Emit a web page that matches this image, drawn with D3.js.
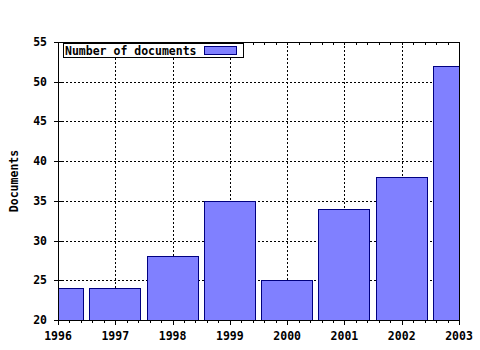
<!DOCTYPE html>
<html>
<head>
<meta charset="utf-8">
<script src="https://cdn.jsdelivr.net/npm/d3@7"></script>
<style>
  body { margin: 0; background: #fff; }
  text { font-family: "DejaVu Sans Mono", monospace; font-weight: bold; font-size: 11.5px; fill: #000; }
</style>
</head>
<body>
<div id="chart"></div>
<script>
const years = [1996, 1997, 1998, 1999, 2000, 2001, 2002, 2003];
const docs = [24, 24, 28, 35, 25, 34, 38, 52];
const yTicks = [20, 25, 30, 35, 40, 45, 50, 55];
const seriesName = "Number of documents";

const margin = { top: 42, right: 21, bottom: 30, left: 58 };
const width = 480 - margin.left - margin.right;
const height = 350 - margin.top - margin.bottom;

const svg = d3.select("#chart")
  .append("svg")
  .attr("width", 480)
  .attr("height", 350);

const g = svg.append("g")
  .attr("transform", `translate(${margin.left},${margin.top})`);

const x = d3.scaleLinear().domain([1996, 2003]).range([0, width]);
const y = d3.scaleLinear().domain([20, 55]).range([height, 0]);
const barW = 51;

g.append("clipPath").attr("id", "clip")
  .append("rect").attr("width", width).attr("height", height);

// grid
g.selectAll(".hgrid")
  .data(yTicks.slice(1, -1))
  .join("line")
  .attr("x1", 0).attr("x2", width)
  .attr("y1", d => Math.round(y(d)) + 0.5).attr("y2", d => Math.round(y(d)) + 0.5)
  .attr("stroke", "#000").attr("stroke-dasharray", "2,2");

g.selectAll(".vgrid")
  .data(years.slice(1, -1))
  .join("line")
  .attr("y1", 0).attr("y2", height)
  .attr("x1", d => Math.round(x(d)) + 0.5).attr("x2", d => Math.round(x(d)) + 0.5)
  .attr("stroke", "#000").attr("stroke-dasharray", "2,2");

// bars
g.append("g").attr("clip-path", "url(#clip)")
  .selectAll("rect")
  .data(years.map((yr, i) => ({ yr, v: docs[i] })))
  .join("rect")
  .attr("x", d => Math.floor(x(d.yr) - barW / 2) + 0.5)
  .attr("y", d => Math.round(y(d.v)) + 0.5)
  .attr("width", barW)
  .attr("height", d => height - Math.round(y(d.v)))
  .attr("fill", "#8080ff")
  .attr("stroke", "#000080");

// frame
g.append("rect")
  .attr("x", 0.5).attr("y", 0.5)
  .attr("width", width).attr("height", height)
  .attr("fill", "none").attr("stroke", "#000");

// minor x ticks
const minor = [];
for (let i = 0; i < years.length - 1; i++) {
  for (let k = 1; k < 5; k++) minor.push(years[i] + k / 5);
}

// bottom axis
const bottom = g.append("g").attr("transform", `translate(0,${height})`);
bottom.selectAll(".maj").data(years).join("line")
  .attr("x1", d => Math.round(x(d)) + 0.5).attr("x2", d => Math.round(x(d)) + 0.5)
  .attr("y1", 0).attr("y2", 5).attr("stroke", "#000");
bottom.selectAll(".min").data(minor).join("line")
  .attr("x1", d => Math.round(x(d)) + 0.5).attr("x2", d => Math.round(x(d)) + 0.5)
  .attr("y1", 0).attr("y2", 3).attr("stroke", "#000");
bottom.selectAll("text").data(years).join("text")
  .attr("x", d => x(d)).attr("y", 20)
  .attr("text-anchor", "middle")
  .text(d => d);

// top minor ticks
g.selectAll(".topmin").data(minor.concat(years)).join("line")
  .attr("x1", d => Math.round(x(d)) + 0.5).attr("x2", d => Math.round(x(d)) + 0.5)
  .attr("y1", 0).attr("y2", 3).attr("stroke", "#000");

// left axis
const left = g.append("g");
left.selectAll("line").data(yTicks).join("line")
  .attr("x1", -4).attr("x2", 4)
  .attr("y1", d => Math.round(y(d)) + 0.5).attr("y2", d => Math.round(y(d)) + 0.5)
  .attr("stroke", "#000");
left.selectAll("text").data(yTicks).join("text")
  .attr("x", -11).attr("y", d => y(d) + 4)
  .attr("text-anchor", "end")
  .text(d => d);

svg.append("text")
  .attr("transform", `translate(18,${margin.top + height / 2}) rotate(-90)`)
  .attr("text-anchor", "middle")
  .text("Documents");

// legend
const leg = g.append("g").attr("transform", "translate(5,1)");
leg.append("rect").attr("x", 0.5).attr("y", 0.5).attr("width", 180).attr("height", 14)
  .attr("fill", "#fff").attr("stroke", "#000");
leg.append("text").attr("x", 2).attr("y", 11.5).text(seriesName);
leg.append("rect").attr("x", 141.5).attr("y", 3.5).attr("width", 32).attr("height", 8)
  .attr("fill", "#8080ff").attr("stroke", "#000080");
</script>
</body>
</html>
